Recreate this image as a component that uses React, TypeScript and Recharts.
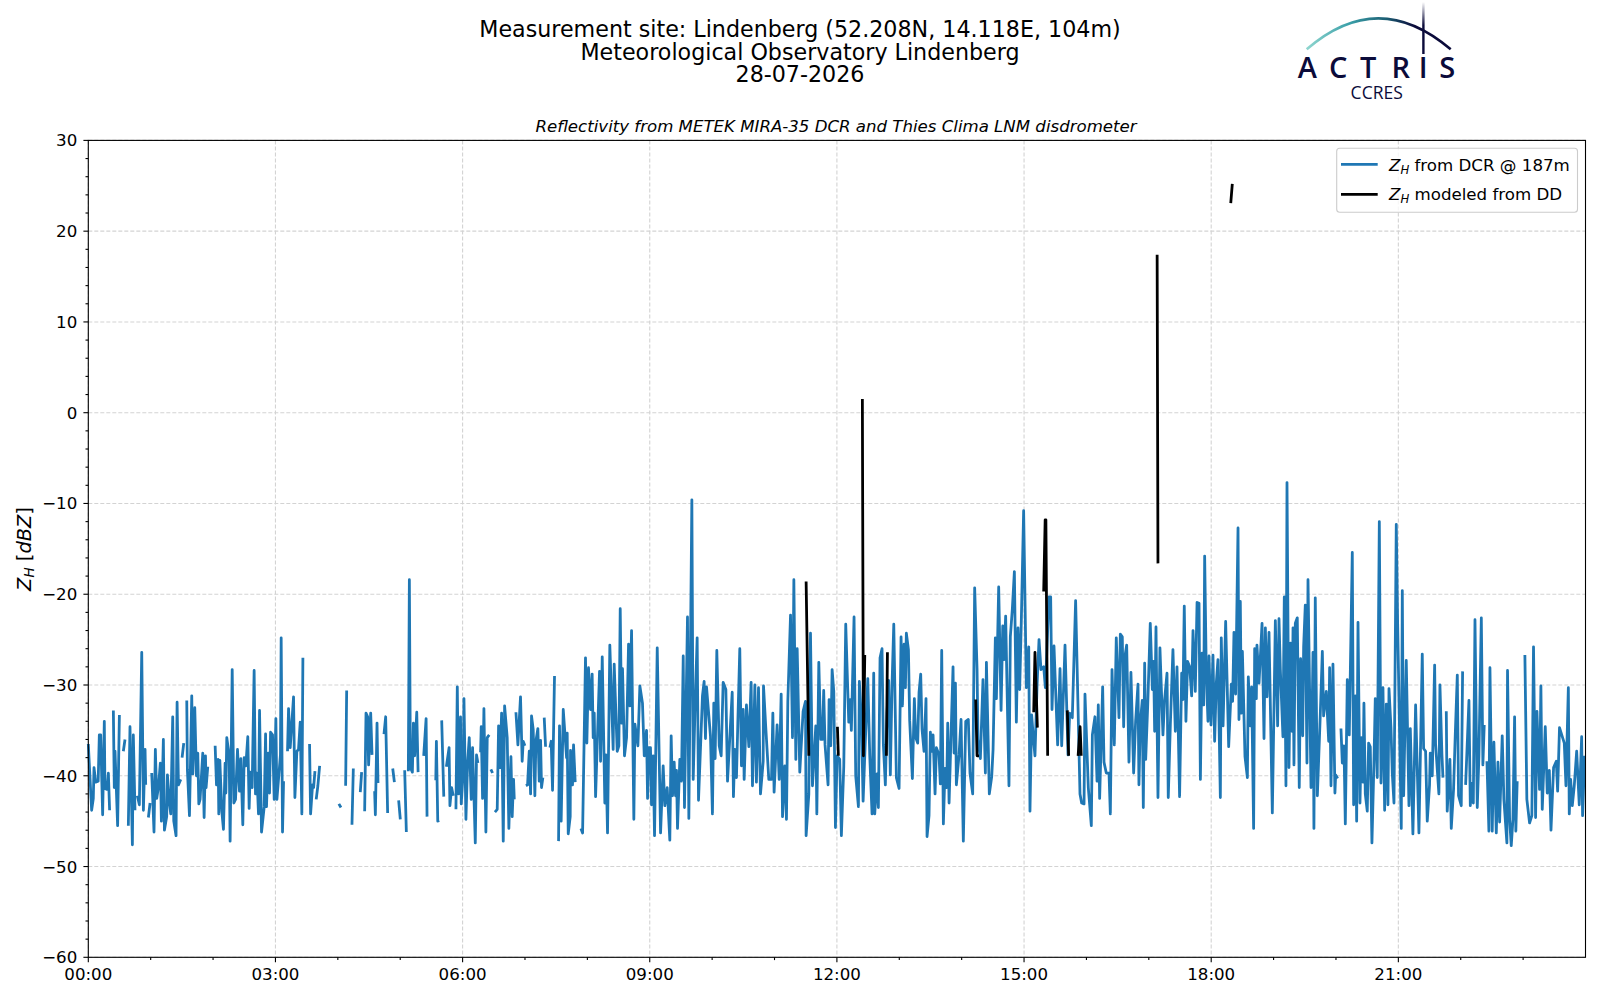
import React from 'react';
import { LineChart, Line, XAxis, YAxis, CartesianGrid } from 'recharts';

const titleLines = ['Measurement site: Lindenberg (52.208N, 14.118E, 104m)', 'Meteorological Observatory Lindenberg', '28-07-2026'];
const subtitle = 'Reflectivity from METEK MIRA-35 DCR and Thies Clima LNM disdrometer';
const hourTicks = [0, 60, 120, 180, 240, 300, 360, 420, 480, 540, 600, 660, 720, 780, 840, 900, 960, 1020, 1080, 1140, 1200, 1260, 1320, 1380];
const majorHourTicks = [0, 180, 360, 540, 720, 900, 1080, 1260];
const zTicks = [-60, -58, -56, -54, -52, -50, -48, -46, -44, -42, -40, -38, -36, -34, -32, -30, -28, -26, -24, -22, -20, -18, -16, -14, -12, -10, -8, -6, -4, -2, 0, 2, 4, 6, 8, 10, 12, 14, 16, 18, 20, 22, 24, 26, 28, 30];
const majorZTicks = [-60, -50, -40, -30, -20, -10, 0, 10, 20, 30];

// minutes after midnight, dBZ (null = no measurement)
const dcrNight: (number | null)[][] = [
[0,-36.5],[3.2,-43.8],[4.8,-42.5],[5.5,-39.1],[7.1,-40.7],[9.5,-40.6],[10.6,-35.5],[11.9,-35.5],[13.8,-44.3],[15.4,-34],[16,-41.4],[18,-41.5],[19.3,-39.7],[20.5,-43.8],[22,null],
[24.1,-32.8],[25,-41.3],[25.7,-37.3],[28.2,-45.5],[29.9,-33.3],[30.3,null],[33.7,-37.3],[35.3,-36],[36,null],
[38.5,-45.5],[40.1,-34.6],[42.4,-47.6],[43.3,-35.5],[44.9,-43.8],[46,null],[47.2,-42.2],[49.1,-43.2],[51.4,-26.4],[53,-43.8],[54.6,-37.1],[55.2,-41],[56.5,null],[57.8,-44.6],[59.4,-43],[60,null],
[61,-39.7],[63.2,-46.2],[64.5,-37.1],[65.8,-42.5],[67.4,-41.3],[69.3,-38.6],[70.3,-45],[72.2,-36],[73.2,-46],[75.4,-44.5],[76.1,-39.9],[78,-43],[79.3,-44.2],[81.2,-33.5],[82.2,-45],[84.4,-46.6],[85.4,-31.9],[86.7,-41],[88.9,-40.4],[89.5,null],
[90.2,-38],[91.8,-36.4],[92.5,null],
[94.7,-31.7],[95.3,-39.3],[97.3,-44.4],[99.5,-31.2],[100.5,-39.8],[102.4,-32.5],[104,-40],[105.3,-37.5],[106.3,-43.1],[107.5,-42.6],[110.1,-37.5],[111.4,-44.6],[112.7,-37.8],[113.3,-41.3],[114.9,-39],[115.5,null],
[122,-36.7],[123.3,-41],[124.9,-38.2],[125.5,-44.2],[126.5,-38.3],[128.4,-43.9],[130,-45.9],[131.6,-38.6],[132.3,-41.9],[133.2,-35.8],[135.5,-37.8],[136.4,-47.2],[138.4,-28.3],[140,-43],[141.6,-42.6],[143.5,-37.1],[145.4,-41.7],[146.7,-38.1],[148.6,-45.4],[149.9,-38],[151.5,-38.9],[153.4,-35.7],[154.7,-43.6],[155.7,-39.6],[157.6,-41.3],[159.5,-28.4],[160.8,-42],[162.1,-39.7],[163.7,-44.2],[164.7,-32.8],[166.6,-46.2],[169.2,-43.4],[170.5,-35.4],[171.4,-43.4],[173,-37.5],[174.3,-41.9],[175.3,-35.2],[177.2,-35.5],[178.8,-42.6],[180.4,-33.7],[181.4,-42.6],[184.8,-37.7],[185.5,-24.8],[186.8,-46.2],[187.8,-40.6],[189,null],
[191.6,-37.3],[192.6,-32.6],[194.2,-36.9],[197.4,-31.3],[198.7,-42.4],[200.6,-37.3],[202.2,-37.1],[203.8,-34.1],[205.4,-44.2],[206.4,-27],[207.5,null],
[212.8,-36.5],[213.8,-44.2],[215.7,-41],[216.7,-41.3],[218,-39.5],[218.6,null],[219.2,-42.6],[220.8,-41.1],[222.5,-38.9],[223,null],
[241,-43.1],[243,-43.5],[244,null],[247.5,-41.1],[248.5,-30.6],[249.5,null],[253.6,-45.4],[254.9,-39.2],[255.5,null],[261.6,-41.8],[262.9,-39.6],[263.5,null],
[265.8,-43.9],[267.1,-33.1],[268.7,-33.5],[269.6,-38.8],[271.6,-33.1],[272.9,-37.7],[274,null],[275.4,-41.7],[276.1,-44.3],[277.7,-34.2],[278.6,-40.8],[279.5,null],
[284.4,-35.4],[286,-33.5],[287.9,-44.1],[289,null],[292.8,-39.2],[294.4,-40.7],[295,null],[298.5,-42.7],[300.1,-44.8],[301,null],[304.3,-39.4],[305.9,-46.2],[306.8,null],
[307.8,-39.5],[308.8,-18.4],[309.8,-39.1],[311.7,-39.6],[312.7,-34.2],[313.9,-37.8],[315.9,-33],[317.2,-39.6],[318,null],[322.6,-37.8],[324.9,-33.7],[325.8,-44.5],[327,null],
[334.2,-40.5],[334.8,-36.2],[336.1,-45],[337.4,-44.9],[338.5,null],[339.9,-33.9],[341.9,-42.3],[343,null],[344.4,-39],[347,-36.9],
];
const dcrMorning: (number | null)[][] = [
[347.8,-43.3],[349.4,-41.3],[351,-42.2],[352,null],[353.6,-43.7],[354.9,-30.2],[356.1,-42],[358,-33.5],[358.7,-43.1],[360.6,-39.5],[361.3,-31.5],[363.2,-44.8],[364.8,-38.6],[366.4,-35.8],[368.3,-42.6],[369.6,-36.9],[372.2,-47.4],[373.4,-37.7],[374.7,-38.6],[375.5,null],
[377.3,-37.4],[377.9,-34.6],[379.2,-42.5],[380.5,-32.6],[382.4,-46.2],[383.7,-35.8],[385.6,-35.5],[386.3,null],[387.2,-39.3],[388.8,-39.7],[390,null],
[391.1,-44],[393.3,-43.7],[394.6,-34.5],[395.9,-39.1],[397.5,-33.1],[399.1,-47.2],[400.4,-32.3],[402.9,-35.8],[404.5,-45.8],[406.5,-37.9],[407.7,-44.5],[409,-40.4],[409.7,-42.6],[410.5,null],
[411.3,-33],[413.2,-36.6],[415.7,-31.3],[417.3,-38.4],[418.3,-36.2],[419.9,-36.7],[420.6,null],[420.9,-41.1],[422.5,-41],[424.1,-37.3],[425.4,-42],[426.3,-33.4],[427.9,-34.9],[429.5,-42.2],[430.5,-36.2],[432.4,-34.8],[433.7,-40.6],[435,-36.1],[435.9,-41.3],[437.2,-40.2],[438,null],
[438.5,-33.6],[439.8,-36.8],[441,null],[444,-36.9],[445.2,-36.2],[446.5,-41.6],[448.4,-29],[450,null],
[452.3,-47.2],[453.2,-34.5],[454.8,-45],[456.8,-32.7],[460,-38],[460.6,-35.3],[461.6,-46.4],[463.5,-44.5],[463.8,-37.2],[465.7,-41],[466.7,-36.6],[468.3,-40.7],[470,null],
[473.8,-45.8],[475.4,-46.3],[478.2,-27],[479.5,-36.4],[481.1,-28.1],[483,-32.7],[484.6,-28.8],[485.6,-35.8],[486.6,-33.1],[487.9,-42.3],[491.7,-28.5],[492.7,-38.4],[494.3,-26.9],[496.8,-43],[497.8,-37.7],[499.4,-46.3],[501.6,-25.6],[504.8,-37.1],[505.8,-27.7],[508.7,-37.3],[510.3,-36.7],[511.6,-21.6],[512.9,-34.2],[513.8,-28.2],[515.7,-37.8],[517.7,-35.8],[519.6,-25.5],[520.9,-32.3],[522.5,-24],[524.7,-44.8],[525.7,-34.3],[528.6,-36.7],[530.5,-30.1],[533,-32],[534.7,-37.8],[536.9,-35],[537.9,-42.5],[539.1,-36.9],[540.7,-36.9],[541.7,-43.2],[543.3,-37.8],[544.6,-46.6],[547.2,-25.9],[550.4,-46.3],[552.9,-38.9],[554.5,-43.3],[556.8,-41.3],[559.3,-47.1],[560.6,-35.6],[561.9,-42.2],[563.5,-38.5],[564.8,-42.2],[565.7,-39.4],[566.7,-45.8],[568.9,-38.2],[570.5,-40.6],[572.2,-26.8],[573.4,-43.5],[576.3,-22.5],[577.6,-44.7],[578.9,-29.1],[580.5,-9.6],[581.8,-40.4],[583.4,-33.2],[585.6,-24.8],[586.9,-42.7],[590.7,-31.2],[592.3,-29.6],[593.6,-35.9],[594.6,-30.2],[598.4,-35.6],[600.3,-44.2],[601.6,-32],[602.9,-38.1],[604.5,-26.2],[606.8,-36.7],[608.7,-37.8],[610.6,-29.7],[613.2,-30.5],[614.8,-40.6],[616.4,-37.1],[619.3,-30.8],[620.5,-42.3],[621.8,-37.1],[623.4,-40.2],[624.7,-34.2],[626.6,-26],[628.2,-38.9],[629.8,-32.7],[630.8,-40.4],[633,-32.2],[635.3,-36.8],[637.5,-29.7],[638.8,-41.1],[641.1,-30],[642.6,-40.7],[644.6,-30.3],[646.5,-42],[649.1,-38.4],[649.4,-30.1],[651.6,-34.7],[654.5,-40.4],[657.1,-40.4],[658.4,-33.1],[659.6,-41.8],[662.5,-34.4],[664.5,-40.4],[666.4,-31],[667.7,-44.5],[669.9,-38.9],[671.5,-44.8],[672.8,-31.8],[675.4,-22.3],[677.3,-35.8],[678.6,-18.4],[680.5,-38.2],[681.8,-26],[684.3,-39.6],[687.5,-32.9],[689.8,-31.8],[690.4,-46.6],[693,-42],[694.6,-24.3],[696.5,-41.1],[699.7,-34.5],[700.7,-44.2],[702.6,-27.5],
];
const dcrAfternoon: (number | null)[][] = [
[704.5,-36],[706.1,-36],[707.3,-30.6],[708.6,-36.6],[711.5,-41],[712.5,-31.6],[714.1,-36.7],[715.4,-28.3],[717,-30.7],[718.6,-45.7],[720.2,-37.8],[722.7,-38.2],[724.3,-46.6],[726.6,-39],[728.5,-23.3],[731.4,-34.1],[732.7,-31.6],[733.9,-35],[736.5,-22.5],[738.1,-40],[740.7,-43.4],[741.6,-29.6],[743.6,-33.8],[745.2,-42.8],[746.8,-37.8],[749.7,-29.3],[751.6,-37.8],[753.8,-44.2],[755.4,-28.7],[756.4,-44.2],[758.6,-39.8],[759.9,-43.5],[761.5,-27],[763.4,-26],[764.7,-36.6],[766.6,-41],[768.2,-33.1],[769.8,-29.5],[771.4,-39.9],[773,-30.1],[774.7,-23.3],[777.2,-40.2],[779.8,-41.4],[781.7,-24.7],[783,-32.3],[784.6,-25.5],[785.9,-30.3],[786.8,-24.3],[788.8,-26.1],[790,-33.9],[792.6,-40.3],[794.5,-31.5],[795.8,-35.8],[797.7,-36.4],[799,-30.8],[800.6,-28.8],[801.9,-34.9],[803.8,-37.3],[805.7,-31.5],[806.7,-46.7],[808.6,-44.4],[809.9,-35.2],[811.2,-37.3],[812.5,-35.5],[814.4,-42],[815.7,-36.9],[818.2,-37.7],[819.5,-40.9],[820.8,-26.2],[822.4,-45.3],[824,-39.2],[825.6,-41.3],[826.6,-34.2],[827.9,-43],[831.7,-28],[832.7,-37.5],[834,-29.8],[834.9,-41],[837.5,-37.7],[839.4,-33.8],[841.6,-47.2],[843.9,-34],[846.4,-33.8],[848,-39.7],[850.6,-42],[852.5,-19.3],[854.8,-28.3],[855.7,-36],[858,-38.1],[860.5,-29.4],[862.8,-39.7],[863.8,-27.5],[866.6,-42],[868.9,-40.1],[870.2,-37.1],[872.4,-24.8],[873.4,-31.5],[875.6,-19.2],[877.9,-32.8],[879.5,-23.5],[880.7,-27.2],[882.3,-22.4],[885.5,-41.1],[886.8,-24.7],[888.7,-21.7],[890.7,-17.5],[892.6,-34.1],[894.2,-23.7],[895.8,-30.5],[897.4,-22.8],[899.6,-10.8],[902.2,-30.3],[904.5,-25.8],[905.7,-43.9],[907.3,-33.3],[909.3,-36.3],[910.5,-37.8],[912.5,-30.1],[914.4,-25],[916.3,-28.3],[918.9,-28],[920.5,-30.3],[924,-20.3],[925.6,-20.3],[926.9,-32.7],[928.8,-25.7],[932.3,-36.6],[934.6,-28.2],[936.2,-36.7],[939.4,-25.6],[942.3,-37.7],[943.9,-33.1],[946.4,-33.6],[949.6,-20.7],[953.8,-42],[955.4,-43],[957.7,-43.1],[958.6,-31],[961.8,-41.3],[964.7,-45.5],[965.7,-35.5],[968.2,-33.5],[970.2,-40.6],[971.4,-32.2],[972.7,-42.5],[975.6,-30.2],[976.9,-38.5],[979.1,-39.7],[981.7,-39.7],[983,-44.2],[984.6,-28.3],[986.8,-36.6],[988.7,-24.8],[991.3,-33.6],[992.6,-24.4],[994.5,-24.7],[995.8,-34.6],[997.1,-26.8],[998.7,-25.6],[1000.9,-38.5],[1002.8,-28.6],[1005.4,-39.7],[1007.3,-34],[1009.6,-29.9],[1010.5,-41],[1011.8,-34.2],[1013.7,-31.7],[1014.7,-43.5],[1016,-27.6],[1017,-38.2],[1018.9,-32.4],[1021.4,-23.2],[1023.4,-30.5],[1024.6,-27.4],[1025.6,-35.1],[1026.9,-23.6],[1028.8,-42.4],[1030.7,-25.9],[1033.6,-35.5],[1035.2,-31.6],[1037.5,-28.7],[1038.7,-42.4],[1040.7,-34.4],[1043.2,-26.1],[1045.5,-35.1],[1047.1,-28],[1049.6,-42.3],[1051.6,-28.7],[1052.8,-31.6],[1054.1,-21.3],[1055.7,-34],[1057.3,-27.4],[1059.3,-28],
];
const dcrEvening: (number | null)[][] = [
[1061.2,-31.2],[1062.5,-24],[1064.7,-30.7],[1066.4,-20.9],[1068.3,-21],[1069.6,-40.4],[1071.2,-26.5],[1072.8,-32.2],[1073.7,-15.8],[1075.3,-28.8],[1076.9,-34],[1077.9,-26.8],[1079.8,-34.4],[1081.7,-26.7],[1083.3,-36.2],[1084.9,-29.8],[1086.5,-27.2],[1088.8,-42.4],[1089.7,-24.8],[1091.4,-34.5],[1093.9,-23],[1096.8,-36.8],[1099.4,-29.9],[1100.6,-31.8],[1101.9,-24.2],[1103.5,-31],[1105.8,-12.7],[1106.7,-33.8],[1108,-20.8],[1109,-33.1],[1110,-26.3],[1112.5,-37.9],[1114.8,-40.2],[1115.7,-29.1],[1117.6,-34.5],[1118.9,-30.2],[1120.8,-45.8],[1121.8,-26],[1123.4,-31.5],[1124,-25.6],[1126,-29.8],[1128.9,-23.2],[1130.8,-35.9],[1132.1,-23.7],[1133.7,-31.3],[1135.6,-24.2],[1138.8,-44.1],[1141.7,-22.9],[1143.9,-34.5],[1145.2,-22.7],[1146.5,-28.3],[1149,-35.7],[1150.3,-20.3],[1151.9,-41.1],[1152.9,-7.7],[1154.8,-39.1],[1156.4,-25.4],[1157.7,-35.1],[1158.7,-23.7],[1159.6,-38.8],[1160.9,-23.2],[1162.8,-22.6],[1164.7,-41.3],[1166,-27.1],[1168,-35.6],[1168.9,-25.8],[1170.5,-21.2],[1172.1,-38.6],[1173.1,-18.4],[1176,-41.3],[1177.9,-26.4],[1178.8,-45.8],[1180.1,-20.4],[1182.1,-42.2],[1184.9,-33.3],[1186.9,-26.3],[1188.1,-33.4],[1190.7,-30.7],[1193,-36.2],[1193.9,-28.1],[1195.2,-41.1],[1197.1,-27.7],[1199,-41.9],[1199.7,-39.9],[1201.6,-40.3],[1202.5,null],
[1204.8,-34.8],[1206.1,-38.6],[1207.7,-36.7],[1209,-45.3],[1210.9,-29.4],[1212.8,-35.5],[1215.7,-15.4],[1217,-43.2],[1218.6,-31.2],[1219.9,-45],[1221.2,-23.1],[1223.1,-43],[1224.4,-35.8],[1226,-40.7],[1226.9,-32],[1228.2,-42],[1230.1,-43.9],[1231.4,-36.4],[1233,-36.8],[1234.6,-47.4],[1236.5,-38.7],[1237.8,-31.5],[1239.7,-40.2],[1241.7,-12],[1243.3,-40.8],[1245.2,-30.3],[1246.8,-43.8],[1248.4,-32.1],[1250,-43.2],[1251,-30.4],[1252.9,-34.7],[1254.2,-39.8],[1255.8,-43],[1258,-12.3],[1259.3,-23.1],[1262.8,-45.8],[1263.8,-19.6],[1265.1,-42.2],[1267.6,-27.3],[1270.2,-43.3],[1271.5,-34.8],[1274,-46.4],[1276.6,-32.2],[1279.8,-46.3],[1283,-26.6],[1284.3,-37],[1286.2,-37.3],[1287.8,-45],[1290,-41],[1290.7,-37.5],[1292.6,-40],[1294.9,-27.8],[1295.8,-36.5],[1299,-42],[1300,-30],[1301.9,-37.6],[1302.9,-40.2],[1304,null],
[1306.1,-32.9],[1307,-43.9],[1309.6,-38.2],[1310.9,-45.8],[1313.1,-41.5],[1314.7,-35.6],[1316.7,-28.9],[1317.9,-42.2],[1320.5,-43.3],[1321.8,-28.5],[1323,null],
[1324.7,-41],[1327.9,-31.7],[1329.2,-43.3],[1331.1,-40.8],[1332.1,-43],[1333.7,-22.8],[1335.9,-43.5],[1337.5,-37.8],[1339.8,-22.6],[1341.3,-38.8],[1342.6,-34.4],[1343.5,null],
[1345.2,-38.4],[1347.1,-46.1],[1348.1,-28.1],[1350.3,-46.1],[1351.9,-36.3],[1354.2,-46.3],[1355.8,-38.5],[1357.4,-45.1],[1359.9,-35.6],[1361.5,-42.6],[1364.4,-47.4],[1365,-28.4],[1367,-44.8],[1368.6,-47.7],[1370.2,-44.8],[1371.8,-33.5],[1373,-46.1],[1374.3,-40.6],[1376,null],
[1381.7,-26.7],[1383.6,-42.6],[1386.2,-45.2],[1388.4,-44.4],[1390,-25.8],[1392,-44.6],[1393.3,-32.9],[1395.8,-41.5],[1397.1,-30.1],[1398.4,-43.7],[1401.3,-34.6],[1403.2,-41.9],[1405.2,-39.4],[1406.8,-46],[1409.3,-39.1],[1411.9,-38.4],[1413.2,-41.7],[1415,-34.7],[1419.6,-36.4],[1421.2,-41.1],[1423.5,-30.3],[1424.4,-44.2],[1425.7,-40.4],[1427.3,-43.3],[1429.2,-41.1],[1431.5,-37.3],[1434,-43.2],[1436.3,-35.7],[1437.2,-44.4],[1439.2,-37.8],
];
const ddModel: (number | null)[][] = [
[690.4,-18.6],[693,-37.8],[694,null],[720.5,-34.6],[721.4,-37.8],[722,null],[744.5,1.5],[745.5,-37.8],[746.8,-26.7],[747.5,null],[767.6,-37.8],[768.6,-26.4],[769.5,null],
[853.5,-31.6],[854.8,-37.8],[856.7,-37.8],[857.5,null],[909.3,-33],[910.5,-26.4],[912.8,-34.7],[914,null],[918.9,-19.7],[920.3,-11.8],[921,-11.8],[922.7,-37.8],[924,null],
[941.6,-32.8],[942.9,-37.8],[943.5,null],[952,-37.8],[953.9,-34.6],[955,-37.8],[956,null],[1028,17.4],[1028.8,-16.6],[1030,null],[1098.8,23.1],[1100.3,25.2],
];

const toRows = (rows: (number | null)[][]) => rows.map(([t, z]) => ({ t, z }));
const dcrRows = toRows([...dcrNight, ...dcrMorning, ...dcrAfternoon, ...dcrEvening]);
const ddRows = toRows(ddModel);

const FONT = '"DejaVu Sans", sans-serif';
const PLOT = { left: 88.3, right: 1585.5, top: 140.4, bottom: 957.3 };
const BLUE = '#1f77b4';
const LINE_W = 2.78;

const pad = (n: number) => String(n).padStart(2, '0');
const hhmm = (m: number) => `${pad(Math.floor(m / 60))}:${pad(m % 60)}`;

const XTick = (p: any) => {
  const major = majorHourTicks.includes(p.payload.value);
  return (
    <g>
      <line x1={p.x} x2={p.x} y1={p.y} y2={p.y + (major ? 4.9 : 2.8)} stroke="#000" strokeWidth={1.1} />
      {major && <text x={p.x} y={p.y + 22.5} textAnchor="middle" fontFamily={FONT} fontSize={16.67} fill="#000">{hhmm(p.payload.value)}</text>}
    </g>
  );
};
const YTick = (p: any) => {
  const major = majorZTicks.includes(p.payload.value);
  const v = p.payload.value;
  return (
    <g>
      <line x1={p.x} x2={p.x - (major ? 4.9 : 2.8)} y1={p.y} y2={p.y} stroke="#000" strokeWidth={1.1} />
      {major && <text x={p.x - 11} y={p.y + 6} textAnchor="end" fontFamily={FONT} fontSize={16.67} fill="#000">{v < 0 ? `\u2212${-v}` : v}</text>}
    </g>
  );
};

const ZH = ({ size }: { size: number }) => (
  <>
    <tspan fontStyle="italic">Z</tspan>
    <tspan fontStyle="italic" fontSize={size * 0.7} dy={size * 0.18}>H</tspan>
    <tspan dy={-size * 0.18}>{'\u00a0'}</tspan>
  </>
);

const logoLetters = [['A', 1307.3], ['C', 1338.3], ['T', 1368.3], ['R', 1400.7], ['I', 1423.3], ['S', 1447.3]] as const;

const Overlay = () => (
  <svg width={1600} height={1000} style={{ position: 'absolute', left: 0, top: 0, pointerEvents: 'none' }}>
    <defs>
      <linearGradient id="arc" x1="0" x2="1" y1="0" y2="0">
        <stop offset="0" stopColor="#8fd6cf" />
        <stop offset="0.3" stopColor="#3a9fa8" />
        <stop offset="0.55" stopColor="#1c5f74" />
        <stop offset="0.75" stopColor="#0b0b3a" />
        <stop offset="1" stopColor="#0b0b3a" />
      </linearGradient>
      <linearGradient id="mast" x1="0" x2="0" y1="0" y2="1">
        <stop offset="0" stopColor="#ffffff" />
        <stop offset="0.45" stopColor="#0b0b3a" />
        <stop offset="1" stopColor="#0b0b3a" />
      </linearGradient>
    </defs>
    {titleLines.map((t, i) => (
      <text key={t} x={800} y={[36.8, 59.6, 82.4][i]} textAnchor="middle" fontFamily={FONT} fontSize={22.2} fill="#000">{t}</text>
    ))}
    <text x={836} y={131.5} textAnchor="middle" fontFamily={FONT} fontStyle="italic" fontSize={16.6} fill="#000">{subtitle}</text>
    <text transform="translate(30.5 549) rotate(-90)" textAnchor="middle" fontFamily={FONT} fontSize={19.4} fill="#000">
      <ZH size={19.4} />[<tspan fontStyle="italic">dBZ</tspan>]
    </text>
    <rect x={PLOT.left} y={PLOT.top} width={PLOT.right - PLOT.left} height={PLOT.bottom - PLOT.top} fill="none" stroke="#000" strokeWidth={1.1} />
    <rect x={1336.7} y={148.3} width={240.8} height={64} rx={3} fill="#fff" fillOpacity={0.8} stroke="#ccc" strokeWidth={1.1} />
    <line x1={1341} x2={1377.7} y1={164.3} y2={164.3} stroke={BLUE} strokeWidth={LINE_W} />
    <line x1={1341} x2={1377.7} y1={194.3} y2={194.3} stroke="#000" strokeWidth={LINE_W} />
    <text x={1389} y={171} fontFamily={FONT} fontSize={16.67} fill="#000"><ZH size={16.67} />from DCR @ 187m</text>
    <text x={1389} y={200} fontFamily={FONT} fontSize={16.67} fill="#000"><ZH size={16.67} />modeled from DD</text>
    <path d="M1306.7 49.3 Q1378 -12.7 1450.7 49.3" fill="none" stroke="url(#arc)" strokeWidth={2.6} />
    <rect x={1422.2} y={2} width={2.4} height={52} fill="url(#mast)" />
    {logoLetters.map(([ch, x]) => (
      <text key={ch} x={x} y={77.7} textAnchor="middle" fontFamily='"Open Sans", sans-serif' fontWeight={600} fontSize={29} fill="#0b0b3a">{ch}</text>
    ))}
    <text x={1376.7} y={98.7} textAnchor="middle" fontFamily='"Open Sans", sans-serif' fontSize={17.5} fill="#0b0b3a">CCRES</text>
  </svg>
);

export default function App() {
  return (
    <div style={{ position: 'absolute', left: 0, top: 0, width: 1600, height: 1000, background: '#fff' }}>
      <LineChart
        width={1600}
        height={1000}
        margin={{ left: PLOT.left - 60, right: 1600 - PLOT.right, top: PLOT.top, bottom: 1000 - PLOT.bottom - 40 }}
      >
        <CartesianGrid stroke="#d3d3d3" strokeDasharray="4 2" strokeWidth={1.1} horizontalValues={majorZTicks} verticalValues={majorHourTicks} />
        <XAxis
          dataKey="t"
          type="number"
          domain={[0, 1440]}
          ticks={hourTicks}
          interval={0}
          height={40}
          tickSize={0}
          tickMargin={0}
          tickLine={false}
          axisLine={false}
          tick={XTick}
        />
        <YAxis
          type="number"
          domain={[-60, 30]}
          ticks={zTicks}
          interval={0}
          width={60}
          tickSize={0}
          tickMargin={0}
          tickLine={false}
          axisLine={false}
          tick={YTick}
        />
        <Line data={dcrRows} dataKey="z" name="ZH from DCR @ 187m" stroke={BLUE} strokeWidth={LINE_W} dot={false} isAnimationActive={false} connectNulls={false} strokeLinejoin="round" />
        <Line data={ddRows} dataKey="z" name="ZH modeled from DD" stroke="#000" strokeWidth={LINE_W} dot={false} isAnimationActive={false} connectNulls={false} strokeLinejoin="round" />
      </LineChart>
      <Overlay />
    </div>
  );
}
